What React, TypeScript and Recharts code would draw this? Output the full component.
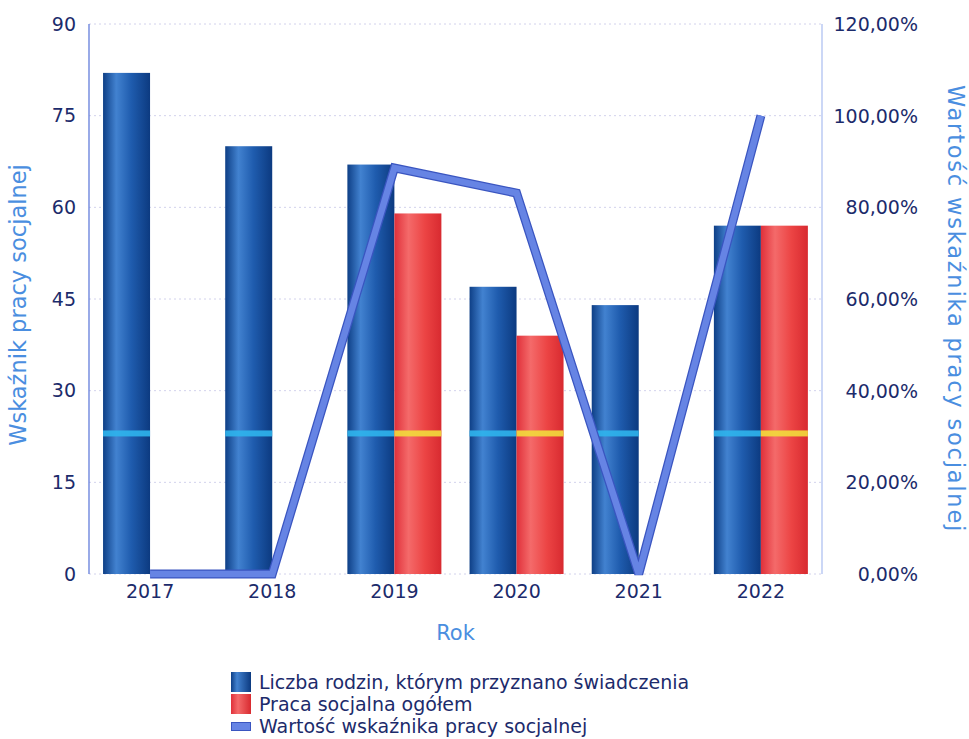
import React from "react";
import {
  ComposedChart,
  Bar,
  Line,
  XAxis,
  YAxis,
  CartesianGrid,
} from "recharts";

const years = ["2017", "2018", "2019", "2020", "2021", "2022"];
const families = [82, 70, 67, 47, 44, 57];
const socialWork = [0, 0, 59, 39, 0, 57];
const indicator = [0, 0, 0.886, 0.831, 0, 1.0];
const leftTicks = [0, 15, 30, 45, 60, 75, 90];
const rightTicks = [0, 0.2, 0.4, 0.6, 0.8, 1.0, 1.2];
const stripeValue = 23;

const seriesNames = [
  "Liczba rodzin, którym przyznano świadczenia",
  "Praca socjalna ogółem",
  "Wartość wskaźnika pracy socjalnej",
];

const data = years.map((y, i) => ({
  year: y,
  families: families[i],
  social: socialWork[i],
  indicator: indicator[i],
}));

const FONT = "'DejaVu Sans', Verdana, sans-serif";
const NAVY = "#1c2b6b";
const TITLE = "#4a8ee0";

const makeShape = (gradId: string, stripe: string, key: string) => (props: any) => {
  const { x, y, width, height, payload } = props;
  if (!height || height <= 0) return <g />;
  const v = payload[key];
  const sy = y + height - height * (stripeValue / v);
  return (
    <g>
      <rect x={x} y={y} width={width} height={height} fill={`url(#${gradId})`} />
      {v > stripeValue && (
        <rect x={x} y={sy - 3} width={width} height={6} fill={stripe} opacity={0.9} />
      )}
    </g>
  );
};

const fmtPct = (v: number) => (v * 100).toFixed(2).replace(".", ",") + "%";

const RightTick = (props: any) => {
  const { x, y, payload } = props;
  return (
    <text x={x + 94} y={y} dy={7} textAnchor="end" fill={NAVY} fontSize={19} fontFamily={FONT}>
      {fmtPct(payload.value)}
    </text>
  );
};

export default function App() {
  return (
    <div style={{ position: "absolute", left: 0, top: 0, width: 969, height: 739, background: "#fff" }}>
      <ComposedChart
        width={969}
        height={739}
        data={data}
        margin={{ top: 24, right: 0, bottom: 0, left: 0 }}
        barGap={0}
        barCategoryGap="11.5%"
      >
        <defs>
          <linearGradient id="gBlue" x1="0" y1="0" x2="1" y2="0">
            <stop offset="0%" stopColor="#0e3f86" />
            <stop offset="28%" stopColor="#4282d0" />
            <stop offset="60%" stopColor="#1f5cae" />
            <stop offset="100%" stopColor="#0c3a80" />
          </linearGradient>
          <linearGradient id="gRed" x1="0" y1="0" x2="1" y2="0">
            <stop offset="0%" stopColor="#e0303a" />
            <stop offset="30%" stopColor="#f46a6a" />
            <stop offset="65%" stopColor="#ec4444" />
            <stop offset="100%" stopColor="#d82a30" />
          </linearGradient>
        </defs>
        <CartesianGrid
          yAxisId="left"
          vertical={false}
          stroke="#d2d2ec"
          strokeDasharray="2 3"
        />
        <XAxis
          dataKey="year"
          height={165}
          axisLine={false}
          tickLine={false}
          tickSize={0}
          tickMargin={11}
          tick={{ fill: NAVY, fontSize: 19, fontFamily: FONT }}
          label={(p: any) => {
            const vb = p.viewBox;
            return (
              <text x={vb.x + vb.width / 2} y={640} textAnchor="middle" fill={TITLE} fontSize={21} fontFamily={FONT}>
                Rok
              </text>
            );
          }}
        />
        <YAxis
          yAxisId="left"
          orientation="left"
          width={89}
          domain={[0, 90]}
          ticks={leftTicks}
          interval={0}
          axisLine={{ stroke: "#5672d8", strokeWidth: 1.2 }}
          tickLine={false}
          tickSize={0}
          tickMargin={13}
          tick={{ fill: NAVY, fontSize: 19, fontFamily: FONT }}
          label={() => (
            <text
              x={0}
              y={0}
              transform="translate(26,305) rotate(-90)"
              textAnchor="middle"
              fill={TITLE}
              fontSize={22.5}
              fontFamily={FONT}
            >
              Wskaźnik pracy socjalnej
            </text>
          )}
        />
        <YAxis
          yAxisId="right"
          orientation="right"
          width={147}
          domain={[0, 1.2]}
          ticks={rightTicks}
          interval={0}
          axisLine={{ stroke: "#a9bcf0", strokeWidth: 1.2 }}
          tickLine={false}
          tickSize={0}
          tick={<RightTick />}
          label={() => (
            <text
              x={0}
              y={0}
              transform="translate(948,309) rotate(90)"
              textAnchor="middle"
              fill={TITLE}
              fontSize={22.5}
              letterSpacing={1.8}
              fontFamily={FONT}
            >
              Wartość wskaźnika pracy socjalnej
            </text>
          )}
        />
        <Bar
          yAxisId="left"
          dataKey="families"
          name={seriesNames[0]}
          fill="#1d58a8"
          isAnimationActive={false}
          shape={makeShape("gBlue", "#2fb4ec", "families")}
        />
        <Bar
          yAxisId="left"
          dataKey="social"
          name={seriesNames[1]}
          fill="#ec4444"
          isAnimationActive={false}
          shape={makeShape("gRed", "#f2dc3c", "social")}
        />
        <Line
          yAxisId="right"
          dataKey="indicator"
          stroke="#3a55c0"
          strokeWidth={9}
          dot={false}
          activeDot={false}
          legendType="none"
          isAnimationActive={false}
          strokeLinejoin="miter"
          strokeMiterlimit={2.5}
        />
        <Line
          yAxisId="right"
          dataKey="indicator"
          name={seriesNames[2]}
          stroke="#6684e4"
          strokeWidth={6.5}
          dot={false}
          activeDot={false}
          isAnimationActive={false}
          strokeLinejoin="miter"
          strokeMiterlimit={2.5}
        />
      </ComposedChart>
      <div
        style={{
          position: "absolute",
          left: 231,
          top: 671,
          fontFamily: FONT,
          fontSize: 19,
          color: NAVY,
          lineHeight: "22px",
        }}
      >
        {seriesNames.map((n, i) => (
          <div key={n} style={{ display: "flex", alignItems: "center", height: 22 }}>
            <span
              style={{
                display: "inline-block",
                width: 20,
                height: i === 2 ? 9 : 20,
                marginRight: 8,
                background:
                  i === 0
                    ? "linear-gradient(90deg,#0e3f86,#4282d0 30%,#0c3a80)"
                    : i === 1
                    ? "linear-gradient(90deg,#e0303a,#f46a6a 35%,#d82a30)"
                    : "#6684e4",
                border: i === 2 ? "1px solid #3a55c0" : "none",
                boxSizing: "border-box",
              }}
            />
            <span>{n}</span>
          </div>
        ))}
      </div>
    </div>
  );
}
